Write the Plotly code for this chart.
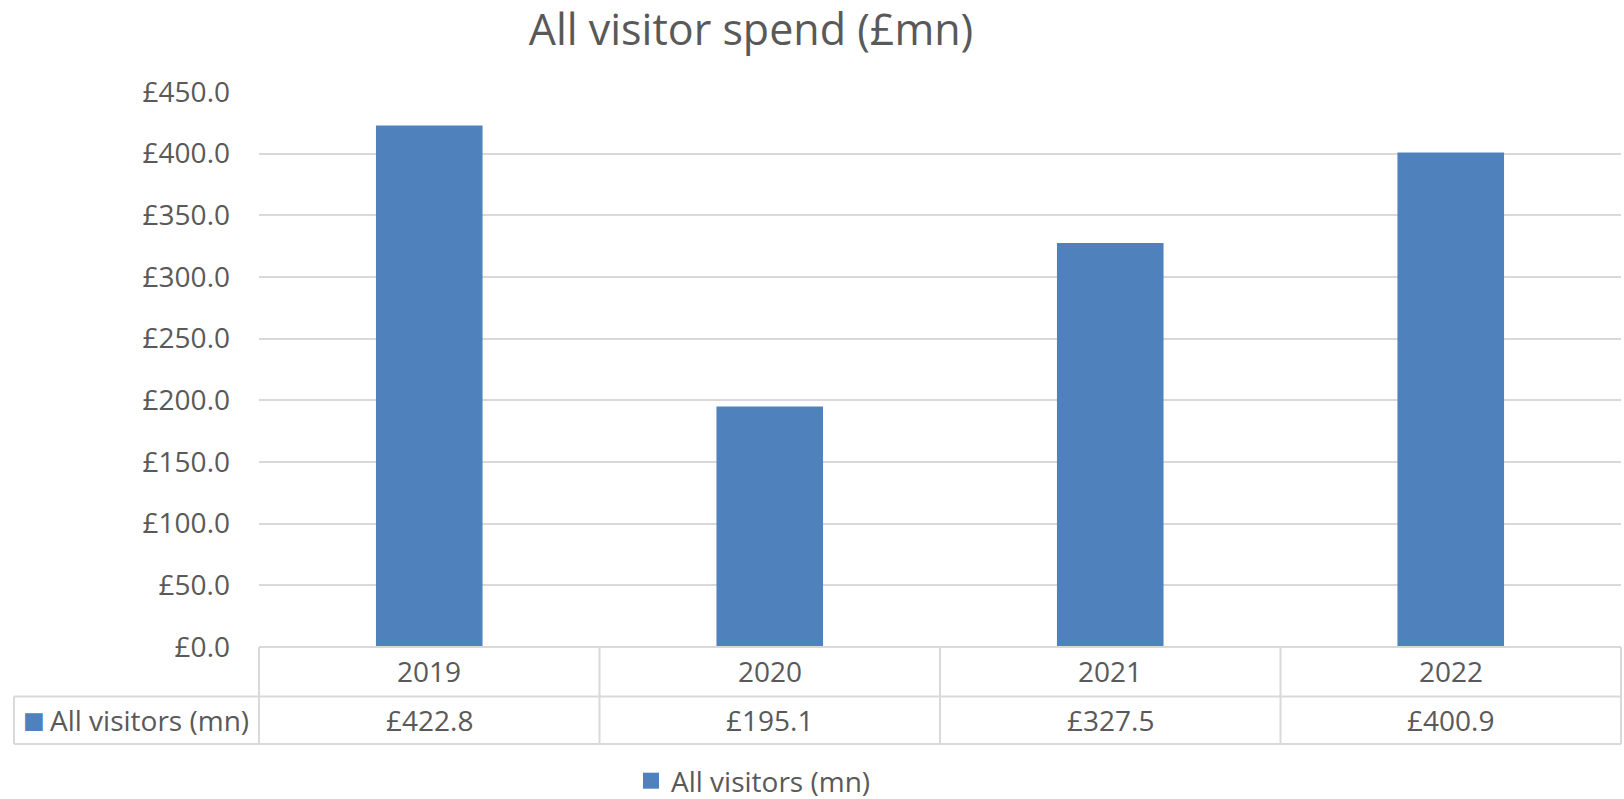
import plotly.graph_objects as go

years = ["2019", "2020", "2021", "2022"]
spend = [422.8, 195.1, 327.5, 400.9]
series_name = "All visitors (mn)"
title_text = "All visitor spend (£mn)"

BAR = "#4f81bd"
TXT = "#595959"
GRID = "#d9d9d9"
FONT = "Open Sans"

W, H = 1624, 799
L, R, T, B = 259, 3, 92, 152
pw = W - L - R
ph = H - T - B

def py(px):  # pixel y -> paper y
    return (H - B - px) / ph

def pxx(px):  # pixel x -> paper x
    return (px - L) / pw

fig = go.Figure()
fig.add_trace(go.Bar(x=years, y=spend, name=series_name, marker_color=BAR,
                     marker_line_width=0, showlegend=False, legendgroup="s"))
# legend entry (larger square key, same series)
fig.add_trace(go.Scatter(x=[None], y=[None], mode="markers", name=series_name,
                         legendgroup="s", showlegend=True,
                         marker=dict(symbol="square", size=18, color=BAR)))

n = len(years)
shapes = []
line = dict(color=GRID, width=2)
left_edge = pxx(14)
row1 = py(696.5)
row2 = py(744)
shapes.append(dict(type="line", xref="paper", yref="paper", x0=0, x1=1, y0=0, y1=0, line=line))
shapes.append(dict(type="line", xref="paper", yref="paper", x0=left_edge, x1=1, y0=row1, y1=row1, line=line))
shapes.append(dict(type="line", xref="paper", yref="paper", x0=left_edge, x1=1, y0=row2, y1=row2, line=line))
for i in range(n + 1):
    shapes.append(dict(type="line", xref="paper", yref="paper", x0=i / n, x1=i / n, y0=0, y1=row2, line=line))
shapes.append(dict(type="line", xref="paper", yref="paper", x0=left_edge, x1=left_edge, y0=row1, y1=row2, line=line))

tf = dict(size=28, color=TXT, family=FONT)
annotations = []
for i, (yr, v) in enumerate(zip(years, spend)):
    annotations.append(dict(x=i, xref="x", y=py(671), yref="paper", text=yr, showarrow=False,
                            xanchor="center", yanchor="middle", font=tf))
    annotations.append(dict(x=i, xref="x", y=py(720), yref="paper", text=f"£{v:.1f}", showarrow=False,
                            xanchor="center", yanchor="middle", font=tf))
annotations.append(dict(x=pxx(34), xref="paper", y=py(720), yref="paper", text="■",
                        showarrow=False, xanchor="center", yanchor="middle",
                        font=dict(size=23, color=BAR, family="DejaVu Sans")))
annotations.append(dict(x=pxx(48), xref="paper", y=py(720), yref="paper", text=series_name,
                        showarrow=False, xanchor="left", yanchor="middle", font=tf))

fig.update_layout(
    width=W, height=H,
    margin=dict(l=L, r=R, t=T, b=B, pad=0, autoexpand=False),
    paper_bgcolor="white", plot_bgcolor="white",
    title=dict(text=title_text, x=751 / W, xanchor="center", xref="container",
               y=1 - 30 / H, yanchor="middle", yref="container",
               font=dict(size=43, color=TXT, family=FONT)),
    bargap=0.687,
    xaxis=dict(type="category", categoryorder="array", categoryarray=years,
               range=[-0.5, n - 0.5],
               showticklabels=False, showgrid=False, zeroline=False, showline=False, ticks=""),
    yaxis=dict(range=[0, 450], dtick=50, tick0=0, tickprefix="£", tickformat=".1f",
               showgrid=True, gridcolor=GRID, gridwidth=2, zeroline=False, showline=False,
               ticks="", ticklabelstandoff=28,
               tickfont=tf),
    showlegend=True,
    legend=dict(orientation="h", x=pxx(631), xanchor="left", y=py(781), yanchor="middle",
                font=tf, bgcolor="rgba(0,0,0,0)"),
    shapes=shapes,
    annotations=annotations,
)

fig.write_html("out.html")
